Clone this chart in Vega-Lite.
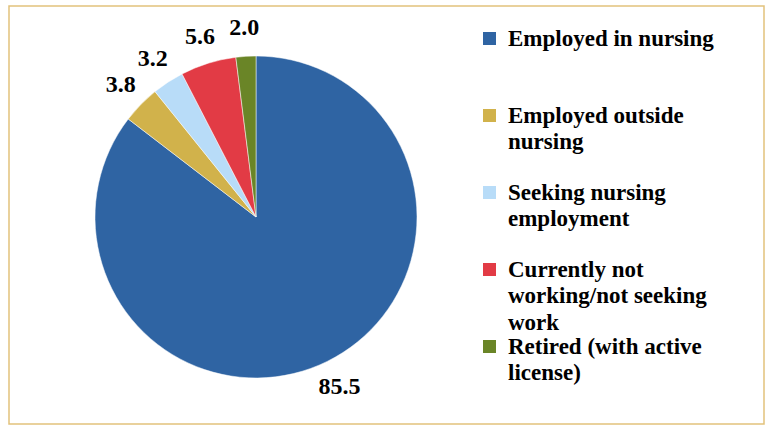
{
  "$schema": "https://vega.github.io/schema/vega-lite/v6.json",
  "width": 755,
  "height": 418,
  "autosize": {"type": "none"},
  "padding": {"left": 9, "top": 6, "right": 4, "bottom": 1},
  "background": "white",
  "view": {"stroke": "#E2C27C", "strokeWidth": 1.5},
  "config": {
    "font": "Liberation Serif",
    "legend": {"rowPadding": -8},
    "style": {"guide-label": {"lineHeight": 26.5}}
  },
  "data": {
    "values": [
      {"status": "Employed in nursing", "value": 85.5, "ord": 1},
      {"status": "Employed outside nursing", "value": 3.8, "ord": 2},
      {"status": "Seeking nursing employment", "value": 3.2, "ord": 3},
      {"status": "Currently not working/not seeking work", "value": 5.6, "ord": 4},
      {"status": "Retired (with active license)", "value": 2.0, "ord": 5}
    ]
  },
  "encoding": {
    "theta": {"field": "value", "type": "quantitative", "stack": true},
    "order": {"field": "ord", "type": "quantitative"}
  },
  "layer": [
    {
      "mark": {"type": "arc", "outerRadius": 161, "x": 247, "y": 211, "stroke": "white", "strokeWidth": 0.5},
      "encoding": {
        "color": {
          "field": "status",
          "type": "nominal",
          "sort": ["Employed in nursing", "Employed outside nursing", "Seeking nursing employment", "Currently not working/not seeking work", "Retired (with active license)"],
          "scale": {
            "domain": ["Employed in nursing", "Employed outside nursing", "Seeking nursing employment", "Currently not working/not seeking work", "Retired (with active license)"],
            "range": ["#2F64A3", "#D1B24B", "#B8DCF8", "#E23B45", "#6A8527"]
          },
          "legend": {
            "title": null,
            "orient": "none",
            "legendX": 469,
            "legendY": 21,
            "symbolType": "square",
            "symbolSize": 169,
            "symbolStrokeWidth": 0,
            "labelFont": "Liberation Serif",
            "labelFontSize": 23,
            "labelFontWeight": "bold",
            "labelColor": "black",
            "labelLimit": 0,
            "labelOffset": 7,
            "labelBaseline": "middle",
            "rowPadding": -8,
            "labelExpr": "datum.label == 'Employed in nursing' ? ['Employed in nursing', '\u00a0', '\u00a0'] : datum.label == 'Employed outside nursing' ? ['Employed outside', 'nursing', '\u00a0'] : datum.label == 'Seeking nursing employment' ? ['Seeking nursing', 'employment', '\u00a0'] : datum.label == 'Currently not working/not seeking work' ? ['Currently not', 'working/not seeking', 'work'] : ['Retired (with active', 'license)', '\u00a0']"
          }
        }
      }
    },
    {
      "mark": {"type": "text", "radius": 189, "x": 247, "y": 211, "fontSize": 24, "fontWeight": "bold", "color": "black", "font": "Liberation Serif"},
      "encoding": {
        "text": {"field": "value", "type": "quantitative", "format": ".1f"}
      }
    }
  ]
}
